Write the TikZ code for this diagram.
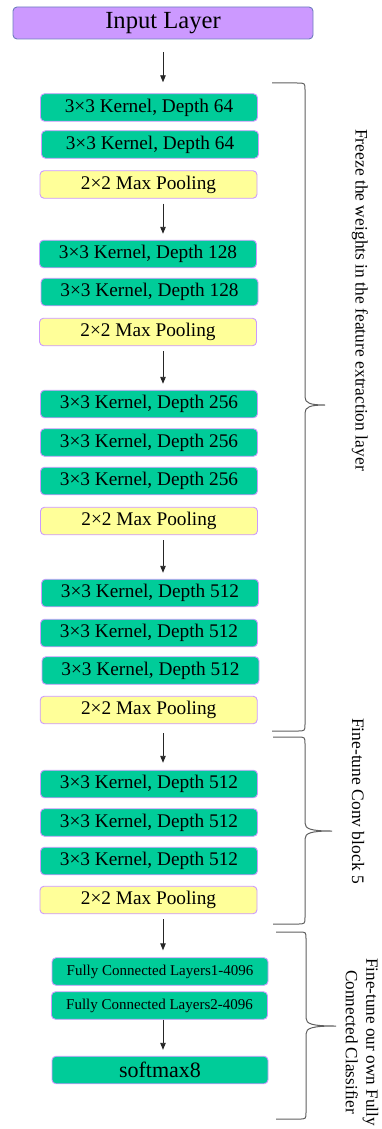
\documentclass[tikz,border=0pt]{standalone}
\usepackage{fontspec}
\setmainfont{Liberation Serif}
\usetikzlibrary{arrows.meta}

\definecolor{convgreen}{RGB}{0,204,153}
\definecolor{poolyellow}{RGB}{255,255,153}
\definecolor{boxedge}{RGB}{204,153,255}
\definecolor{inputfill}{RGB}{204,153,255}
\definecolor{inputedge}{RGB}{110,125,190}
\definecolor{bracegray}{RGB}{95,95,95}

\tikzset{
  layer/.style={rounded corners=4pt, draw=boxedge, line width=0.9pt,
    minimum width=217pt, minimum height=27.5pt, inner sep=0pt,
    font=\fontsize{19.3}{22}\selectfont},
  conv/.style={layer, fill=convgreen},
  pool/.style={layer, fill=poolyellow},
  fc/.style={conv, minimum width=216pt, font=\fontsize{15}{18}\selectfont},
  inlayer/.style={layer, fill=inputfill, draw=inputedge, minimum width=300pt,
    minimum height=32pt, font=\fontsize{24.6}{28}\selectfont},
  flow/.style={-{Triangle[length=7pt,width=5.5pt]}, line width=0.9pt, draw=black!85,
    shorten <=5pt, shorten >=6pt},
  bracket/.style={draw=bracegray, line width=1pt},
  side/.style={rotate=-90, font=\fontsize{17.5}{20.5}\selectfont, align=center}
}

\begin{document}
\begin{tikzpicture}[x=1pt,y=-1pt]
\useasboundingbox (0,0) rectangle (382,1129);

% input
\node[inlayer] (input) at (163,23) {Input Layer};

% block 1
\node[conv] (c64a) at (149,107.5) {3×3 Kernel, Depth 64};
\node[conv] (c64b) at (150,144.5) {3×3 Kernel, Depth 64};
\node[pool] (p1) at (148.5,184.5) {2×2 Max Pooling};

% block 2
\node[conv] (c128a) at (148,254) {3×3 Kernel, Depth 128};
\node[conv] (c128b) at (149.5,292) {3×3 Kernel, Depth 128};
\node[pool] (p2) at (148,332) {2×2 Max Pooling};

% block 3
\node[conv] (c256a) at (149,404) {3×3 Kernel, Depth 256};
\node[conv] (c256b) at (149,442.5) {3×3 Kernel, Depth 256};
\node[conv] (c256c) at (149,481) {3×3 Kernel, Depth 256};
\node[pool] (p3) at (149,521) {2×2 Max Pooling};

% block 4
\node[conv] (c512a) at (150,593) {3×3 Kernel, Depth 512};
\node[conv] (c512b) at (149,633) {3×3 Kernel, Depth 512};
\node[conv] (c512c) at (150.5,670.5) {3×3 Kernel, Depth 512};
\node[pool] (p4) at (148.7,710) {2×2 Max Pooling};

% block 5
\node[conv] (c512d) at (149,784) {3×3 Kernel, Depth 512};
\node[conv] (c512e) at (149,822.5) {3×3 Kernel, Depth 512};
\node[conv] (c512f) at (149,861) {3×3 Kernel, Depth 512};
\node[pool] (p5) at (148.5,900) {2×2 Max Pooling};

% classifier
\node[fc] (fc1) at (160,971.5) {Fully Connected Layers1-4096};
\node[fc] (fc2) at (159.5,1005.5) {Fully Connected Layers2-4096};
\node[conv, minimum width=216pt, font=\fontsize{22}{26}\selectfont] (soft) at (160,1070) {softmax8};

% flow arrows
\draw[flow, shorten <=13pt, shorten >=11pt] (input.south) -- (c64a.north -| input);
\draw[flow] (p1.south -| input) -- (c128a.north -| input);
\draw[flow] (p2.south -| input) -- (c256a.north -| input);
\draw[flow] (p3.south -| input) -- (c512a.north -| input);
\draw[flow, shorten <=9pt, shorten >=7pt] (p4.south -| input) -- (c512d.north -| input);
\draw[flow, shorten >=7pt] (p5.south -| input) -- (fc1.north -| input);
\draw[flow, shorten <=0pt] (fc2.south -| input) -- (soft.north -| input);

% braces
\draw[bracket] (272,83) -- (297,83) .. controls (305,83) .. (305,90)
  -- (305,397) .. controls (305,403) and (310,405) .. (325,405)
  .. controls (310,405) and (305,407) .. (305,413)
  -- (305,724) .. controls (305,731) .. (297,731) -- (272,731);
\draw[bracket] (273,737) -- (297,737) .. controls (305,737) .. (305,744)
  -- (305,823) .. controls (305,829) and (311,831) .. (332,831)
  .. controls (311,831) and (305,833) .. (305,839)
  -- (305,917) .. controls (305,924) .. (297,924) -- (273,924);
\draw[bracket] (276,932) -- (299,932) .. controls (306,932) .. (306,939)
  -- (306,1018) .. controls (306,1024) and (312,1026) .. (336,1026)
  .. controls (312,1026) and (306,1028) .. (306,1034)
  -- (306,1112) .. controls (306,1119) .. (299,1119) -- (276,1119);

% brace labels
\node[side] (frz) at (360,300) {Freeze the weights in the feature extraction layer};
\node[side] (ftc) at (358,801) {Fine-tune Conv block 5};
\node[side, font=\fontsize{17.2}{20.5}\selectfont] (ftf) at (362,1042)
  {Fine-tune our own Fully\\Connected Classifier};
\end{tikzpicture}
\end{document}
